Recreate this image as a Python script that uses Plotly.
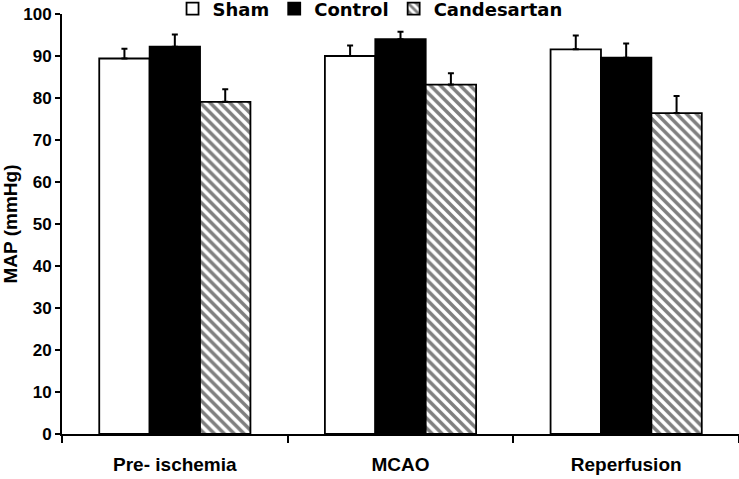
import plotly.graph_objects as go

categories = ["Pre- ischemia", "MCAO", "Reperfusion"]
sham = [89.4, 90.0, 91.6]
sham_err = [2.3, 2.5, 3.3]
control = [92.2, 94.0, 89.6]
control_err = [2.9, 1.8, 3.4]
candesartan = [79.1, 83.2, 76.4]
candesartan_err = [3.0, 2.7, 4.1]

font_family = "Arial, Liberation Sans, sans-serif"
legend_family = "DejaVu Sans, Arial, sans-serif"

def err(arr):
    return dict(type="data", symmetric=False, array=arr, arrayminus=[0]*len(arr),
                color="black", thickness=2, width=3)

fig = go.Figure()
fig.add_trace(go.Bar(name="Sham", x=categories, y=sham, error_y=err(sham_err),
                     marker=dict(color="white", line=dict(color="black", width=1.8))))
fig.add_trace(go.Bar(name="Control", x=categories, y=control, error_y=err(control_err),
                     marker=dict(color="black", line=dict(color="black", width=1.8))))
fig.add_trace(go.Bar(name="Candesartan", x=categories, y=candesartan, error_y=err(candesartan_err),
                     marker=dict(color="white", line=dict(color="black", width=1.8),
                                 pattern=dict(shape="\\", fgcolor="black", bgcolor="white",
                                              size=7, solidity=0.5))))

fig.update_layout(
    width=739, height=479,
    margin=dict(l=62, r=0, t=14, b=45, autoexpand=False),
    paper_bgcolor="white", plot_bgcolor="white",
    barmode="group", bargap=0.33, bargroupgap=0,
    font=dict(family=font_family, color="black", size=17),
    legend=dict(orientation="h", x=0.455, xanchor="center", y=1.056, yanchor="top",
                font=dict(size=18, family=legend_family, weight="bold"),
                itemwidth=30, tracegroupgap=0, bgcolor="rgba(0,0,0,0)"),
    showlegend=True,
)
fig.update_xaxes(
    showline=True, linecolor="black", linewidth=2, automargin=False,
    ticks="outside", tickson="boundaries", ticklen=7, tickwidth=1.5, tickcolor="black",
    tickfont=dict(size=19, family=font_family, weight="bold"),
    ticklabelstandoff=12, showgrid=False,
)
fig.update_yaxes(
    range=[0, 100], dtick=10, showline=True, linecolor="black", linewidth=2, automargin=False,
    ticks="outside", ticklen=5, tickwidth=1.5, tickcolor="black",
    tickfont=dict(size=17, family=font_family, weight="bold"),
    showgrid=False, zeroline=False,
    title=dict(text="MAP (mmHg)", font=dict(size=19, family=font_family, weight="bold"), standoff=6),
)

fig.write_html("out.html", config={"displayModeBar": False},
               post_script="document.body.style.margin='0';")
